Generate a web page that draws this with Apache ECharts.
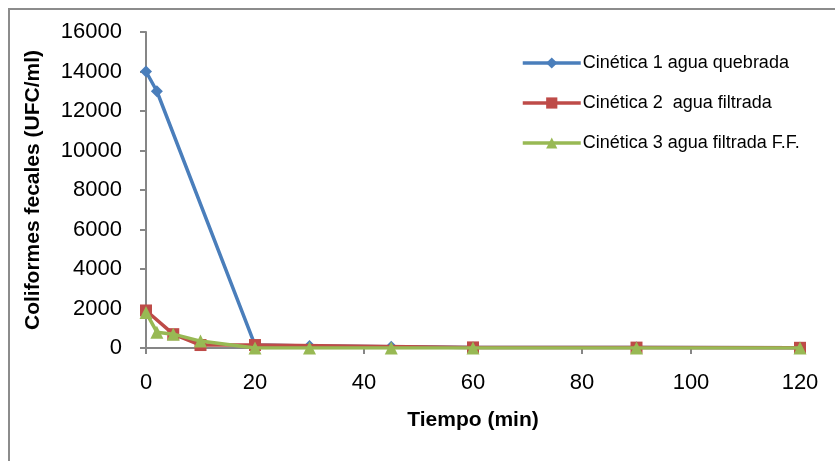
<!DOCTYPE html>
<html>
<head>
<meta charset="utf-8">
<script src="https://cdn.jsdelivr.net/npm/echarts@6/dist/echarts.min.js"></script>
<style>
  html, body { margin: 0; padding: 0; background: #fff; }
  #chart { width: 835px; height: 461px; }
</style>
</head>
<body>
<div id="chart"></div>
<script>
// Fecal coliform counts over contact time, three kinetics runs
const seriesNames = [
  'Cinética 1 agua quebrada',
  'Cinética 2  agua filtrada',
  'Cinética 3 agua filtrada F.F.'
];
const tiempo1 = [0, 2, 20, 30, 45, 60, 90, 120];
const cinetica1 = [14000, 13000, 150, 100, 60, 30, 20, 10];
const tiempo2 = [0, 5, 10, 20, 60, 90, 120];
const cinetica2 = [1900, 700, 150, 150, 30, 20, 10];
const tiempo3 = [0, 2, 5, 10, 20, 30, 45, 60, 90, 120];
const cinetica3 = [1800, 800, 700, 350, 0, 0, 0, 0, 0, 0];

const colors = ['#4a7ebb', '#be4b48', '#98b954'];
const symbols = ['diamond', 'rect', 'triangle'];
const symbolSizes = [12, 12, 13];

function pairs(xs, ys) { return xs.map((x, i) => [x, ys[i]]); }
const dataSets = [pairs(tiempo1, cinetica1), pairs(tiempo2, cinetica2), pairs(tiempo3, cinetica3)];

const chart = echarts.init(document.getElementById('chart'), null, { renderer: 'canvas' });
const axisGrey = '#868686';
const font = '"Liberation Sans", Arial, sans-serif';

chart.setOption({
  animation: false,
  backgroundColor: '#fff',
  graphic: [{
    type: 'rect',
    shape: { x: 9, y: 9, width: 900, height: 600 },
    style: { fill: 'none', stroke: '#8c8c8c', lineWidth: 2 },
    silent: true
  }],
  grid: { left: 146, right: 35, top: 32, bottom: 113 },
  legend: {
    left: 516, top: 49, orient: 'vertical',
    itemWidth: 58, itemHeight: 14, itemGap: 22,
    lineStyle: { width: 3.5 },
    textStyle: { fontFamily: font, fontSize: 18, color: '#000', padding: [0, 0, 0, -3] },
    data: seriesNames
  },
  xAxis: {
    type: 'value', min: 0, max: 120, interval: 20,
    name: 'Tiempo (min)', nameLocation: 'middle', nameGap: 62,
    nameTextStyle: { fontFamily: font, fontSize: 21, fontWeight: 'bold', color: '#000' },
    axisLine: { show: true, lineStyle: { color: axisGrey, width: 2 } },
    axisTick: { show: true, length: 6, lineStyle: { color: axisGrey, width: 2 } },
    axisLabel: { fontFamily: font, fontSize: 22, color: '#000', margin: 24 },
    splitLine: { show: false }
  },
  yAxis: {
    type: 'value', min: 0, max: 16000, interval: 2000,
    name: 'Coliformes fecales (UFC/ml)', nameLocation: 'middle', nameGap: 102,
    nameTextStyle: { fontFamily: font, fontSize: 21, fontWeight: 'bold', color: '#000' },
    axisLine: { show: true, lineStyle: { color: axisGrey, width: 2 } },
    axisTick: { show: true, length: 6, lineStyle: { color: axisGrey, width: 2 } },
    axisLabel: { fontFamily: font, fontSize: 22, color: '#000', margin: 24, formatter: v => String(v) },
    splitLine: { show: false }
  },
  series: seriesNames.map((name, i) => ({
    name: name,
    type: 'line',
    data: dataSets[i],
    symbol: symbols[i],
    symbolSize: symbolSizes[i],
    showAllSymbol: true,
    lineStyle: { color: colors[i], width: 3.5 },
    itemStyle: { color: colors[i] },
    z: 2 + i
  }))
});
</script>
</body>
</html>
